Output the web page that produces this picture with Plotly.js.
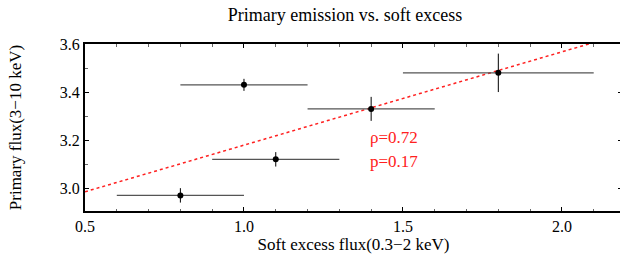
<!DOCTYPE html>
<html>
<head>
<meta charset="utf-8">
<script src="https://cdn.plot.ly/plotly-3.0.1.min.js"></script>
<style>
html,body{margin:0;padding:0;overflow:hidden;background:#fff;}
#chart{width:622px;height:257px;}
</style>
</head>
<body>
<div id="chart"></div>
<script>
// Data
const softFlux   = [0.8, 1.0, 1.1, 1.4, 1.8];
const softErr    = [0.2, 0.2, 0.2, 0.2, 0.3];
const primFlux   = [2.97, 3.43, 3.12, 3.33, 3.48];
const primErr    = [0.03, 0.025, 0.03, 0.05, 0.08];
const fitX       = [0.5, 2.2];
const fitY       = [2.985, 3.645];
const statLabels = ['ρ=0.72', 'p=0.17'];
const statY      = [3.21, 3.11];
const statX      = 1.39;

const serif = 'Liberation Serif, Times New Roman, serif';

const traces = [
  {
    x: fitX, y: fitY, mode: 'lines', type: 'scatter',
    line: {color: '#ff2020', width: 1.5, dash: '3px,3px'},
    hoverinfo: 'skip', showlegend: false
  },
  {
    x: softFlux, y: primFlux, mode: 'markers', type: 'scatter',
    marker: {color: '#000', size: 6},
    error_x: {type: 'data', array: softErr, visible: true, color: '#555', thickness: 1.3, width: 0},
    error_y: {type: 'data', array: primErr, visible: true, color: '#000', thickness: 1, width: 0},
    showlegend: false
  }
];

const layout = {
  width: 622, height: 257,
  margin: {l: 85, r: 0, t: 44, b: 46},
  paper_bgcolor: '#fff', plot_bgcolor: '#fff',
  font: {family: serif, size: 16, color: '#000'},
  title: {
    text: 'Primary emission vs. soft excess',
    font: {family: serif, size: 18, color: '#000'},
    x: 345/622, xref: 'container', xanchor: 'center',
    y: 1 - 15/257, yref: 'container', yanchor: 'middle'
  },
  xaxis: {
    range: [0.5, 2.189],
    tickvals: [0.5, 1.0, 1.5, 2.0],
    ticktext: ['0.5', '1.0', '1.5', '2.0'],
    ticks: 'inside', ticklen: 4, tickwidth: 1, tickcolor: '#000',
    minor: {dtick: 0.1, tick0: 0.5, ticks: 'inside', ticklen: 2.5, tickcolor: '#666'},
    showline: true, linecolor: '#000', linewidth: 2, mirror: 'ticks',
    showgrid: false, zeroline: false,
    tickfont: {family: serif, size: 16},
    title: {text: 'Soft excess flux(0.3−2 keV)', font: {family: serif, size: 17}, standoff: 2}
  },
  yaxis: {
    range: [2.905, 3.6],
    tickvals: [3.0, 3.2, 3.4, 3.6],
    ticktext: ['3.0', '3.2', '3.4', '3.6'],
    ticks: 'inside', ticklen: 4, tickwidth: 1, tickcolor: '#000',
    minor: {dtick: 0.1, tick0: 3.0, ticks: 'inside', ticklen: 2.5, tickcolor: '#666'},
    showline: true, linecolor: '#000', linewidth: 2, mirror: 'ticks',
    showgrid: false, zeroline: false,
    tickfont: {family: serif, size: 16},
    title: {text: 'Primary flux(3−10 keV)', font: {family: serif, size: 17}, standoff: 34}
  },
  annotations: statLabels.map((t, i) => ({
    x: statX, y: statY[i], xref: 'x', yref: 'y', text: t, showarrow: false,
    xanchor: 'left', yanchor: 'middle',
    font: {family: serif, size: 17, color: '#ff2020'}
  }))
};

Plotly.newPlot('chart', traces, layout, {displayModeBar: false, staticPlot: true});
</script>
</body>
</html>
